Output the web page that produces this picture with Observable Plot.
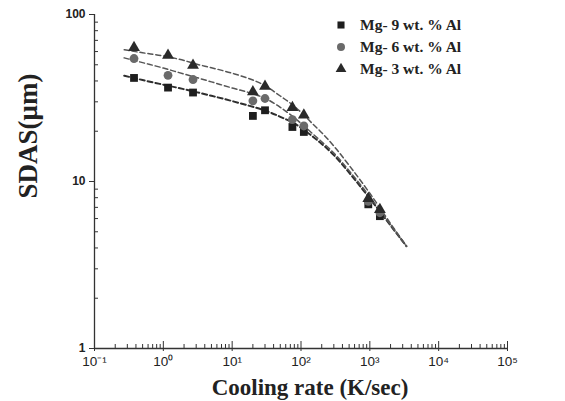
<!DOCTYPE html>
<html><head><meta charset="utf-8">
<script src="https://cdn.jsdelivr.net/npm/d3@7"></script>
<script src="https://cdn.jsdelivr.net/npm/@observablehq/plot@0.6"></script>
<style>
body{margin:0;background:#fff;}
#wrap{position:relative;width:565px;height:401px;overflow:hidden;}
.ttl{position:absolute;font-family:"Liberation Serif","Times New Roman",serif;font-weight:bold;color:#222;white-space:nowrap;}
#ylab{left:28px;top:136px;font-size:27px;transform:translate(-50%,-50%) rotate(-90deg);}
#xlab{left:310px;top:388px;font-size:23px;transform:translate(-50%,-50%);}
#legend{position:absolute;left:335px;top:14px;font-family:"Liberation Serif","Times New Roman",serif;font-weight:bold;font-size:15.5px;color:#222;}
#legend .row{display:flex;align-items:center;height:22px;}
#legend svg{margin-right:13px;}
</style></head>
<body><div id="wrap"></div>
<script>
const seriesNames = ["Mg- 9 wt. % Al", "Mg- 6 wt. % Al", "Mg- 3 wt. % Al"];
const seriesSymbols = ["square", "circle", "triangle"];
const seriesFill = ["#1e1e1e", "#6a6a6a", "#2a2a2a"];

// measured points
const rateMeasured = [0.375, 1.17, 2.7, 20, 30, 75, 110, 950, 1400];
const sdasMg9 = [41.7, 36.5, 34.1, 24.7, 26.7, 21.2, 19.8, 7.3, 6.2];
const sdasMg6 = [54.5, 43.2, 40.8, 30.4, 31.4, 23.5, 21.5, 7.6, 6.5];
const sdasMg3 = [63.3, 56.9, 49.6, 34.4, 37.2, 27.7, 25.0, 7.9, 6.8];

// fitted dashed curves
const rateFit = [0.27, 0.5, 1, 2, 3, 5, 10, 20, 30, 50, 75, 100, 150, 200, 300, 500, 1000, 2000, 3400];
const fitMg9 = [43, 40.5, 38, 35.7, 34.3, 32.6, 30.3, 28, 26.6, 24.4, 22.6, 21, 18.5, 16.8, 14.4, 11.3, 7.9, 5.45, 4.1];
const fitMg6 = [55, 51.5, 47.8, 44, 42, 39.5, 36.3, 33.5, 31.5, 27.8, 24.6, 22.3, 19.2, 17.3, 14.8, 11.6, 8.1, 5.5, 4.1];
const fitMg3 = [61.5, 59, 56.5, 53, 50.5, 48, 44.5, 40.5, 37.5, 32.5, 28.8, 26, 22, 19.6, 16.3, 12.5, 8.5, 5.6, 4.1];

// axes
const xTicks = [0.1, 1, 10, 100, 1000, 10000, 100000];
const xTickLabels = ["10\u207B\u00B9", "10\u2070", "10\u00B9", "10\u00B2", "10\u00B3", "10\u2074", "10\u2075"];
const xMinor = [0.2,0.3,0.4,0.5,0.6,0.7,0.8,0.9,2,3,4,5,6,7,8,9,20,30,40,50,60,70,80,90,200,300,400,500,600,700,800,900,2000,3000,4000,5000,6000,7000,8000,9000,20000,30000,40000,50000,60000,70000,80000,90000];
const yTicks = [1, 10, 100];
const yTickLabels = ["1", "10", "100"];
const yMinor = [2,3,4,5,6,7,8,9,20,30,40,50,60,70,80,90];

const sdasAll = [sdasMg9, sdasMg6, sdasMg3];
const fitAll = [fitMg9, fitMg6, fitMg3];
const points = sdasAll.flatMap((arr, s) => arr.map((v, i) => ({rate: rateMeasured[i], sdas: v, s})));
const fits = fitAll.flatMap((arr, s) => arr.map((v, i) => ({rate: rateFit[i], sdas: v, s})));
const xLab = new Map(xTicks.map((t, i) => [t, xTickLabels[i]]));
const yLab = new Map(yTicks.map((t, i) => [t, yTickLabels[i]]));

const chart = Plot.plot({
  width: 565, height: 401,
  marginLeft: 94, marginRight: 58, marginTop: 14, marginBottom: 53,
  style: {fontFamily: "Liberation Sans, Arial, sans-serif", fontSize: "12px", color: "#222", background: "transparent"},
  x: {type: "log", domain: [0.1, 100000], label: null},
  y: {type: "log", domain: [1, 100], label: null},
  marks: [
    Plot.ruleX([0.1], {stroke: "#333", strokeWidth: 1.3}),
    Plot.ruleY([1], {stroke: "#333", strokeWidth: 1.3}),
    Plot.axisX(xMinor, {tickSize: 4, dy: -4, tickFormat: () => "", stroke: "#333", label: null}),
    Plot.axisX(xTicks, {tickSize: 7, dy: -7, tickFormat: () => "", stroke: "#333", label: null}),
    Plot.axisX(xTicks, {tickSize: 3, tickPadding: 5, tickFormat: d => xLab.get(d), stroke: "#333", fill: "#222", fontSize: 13.5, label: null}),
    Plot.axisY(yMinor, {tickSize: 4, dx: 4, tickFormat: () => "", stroke: "#333", label: null}),
    Plot.axisY(yTicks, {tickSize: 5, tickPadding: 4, tickFormat: d => yLab.get(d), stroke: "#333", fill: "#222", fontSize: 12, fontWeight: "bold", label: null}),
    Plot.line(fits, {x: "rate", y: "sdas", z: "s", curve: "monotone-x",
      stroke: d => d.s === 0 ? "#2e2e2e" : "#555",
      strokeWidth: d => d.s === 0 ? 2 : 1.5, strokeDasharray: "5,3"}),
    Plot.dot(points, {x: "rate", y: "sdas", r: 4.4,
      symbol: d => seriesSymbols[d.s], fill: d => seriesFill[d.s], stroke: "none"})
  ],
  symbol: {type: "identity"},
  color: {type: "identity"}
});

const wrap = document.getElementById("wrap");
wrap.appendChild(chart);

const yl = document.createElement("div"); yl.id = "ylab"; yl.className = "ttl"; yl.textContent = "SDAS(\u03BCm)"; wrap.appendChild(yl);
const xl = document.createElement("div"); xl.id = "xlab"; xl.className = "ttl"; xl.textContent = "Cooling rate (K/sec)"; wrap.appendChild(xl);

const leg = document.createElement("div"); leg.id = "legend";
seriesNames.forEach((name, s) => {
  const row = document.createElement("div"); row.className = "row";
  const sym = d3.symbol(s === 0 ? d3.symbolSquare : s === 1 ? d3.symbolCircle : d3.symbolTriangle, 50)();
  row.innerHTML = `<svg width="12" height="12" viewBox="-6 -6 12 12"><path d="${sym}" fill="${seriesFill[s]}"/></svg><span>${name}</span>`;
  leg.appendChild(row);
});
wrap.appendChild(leg);
</script>
</body></html>
